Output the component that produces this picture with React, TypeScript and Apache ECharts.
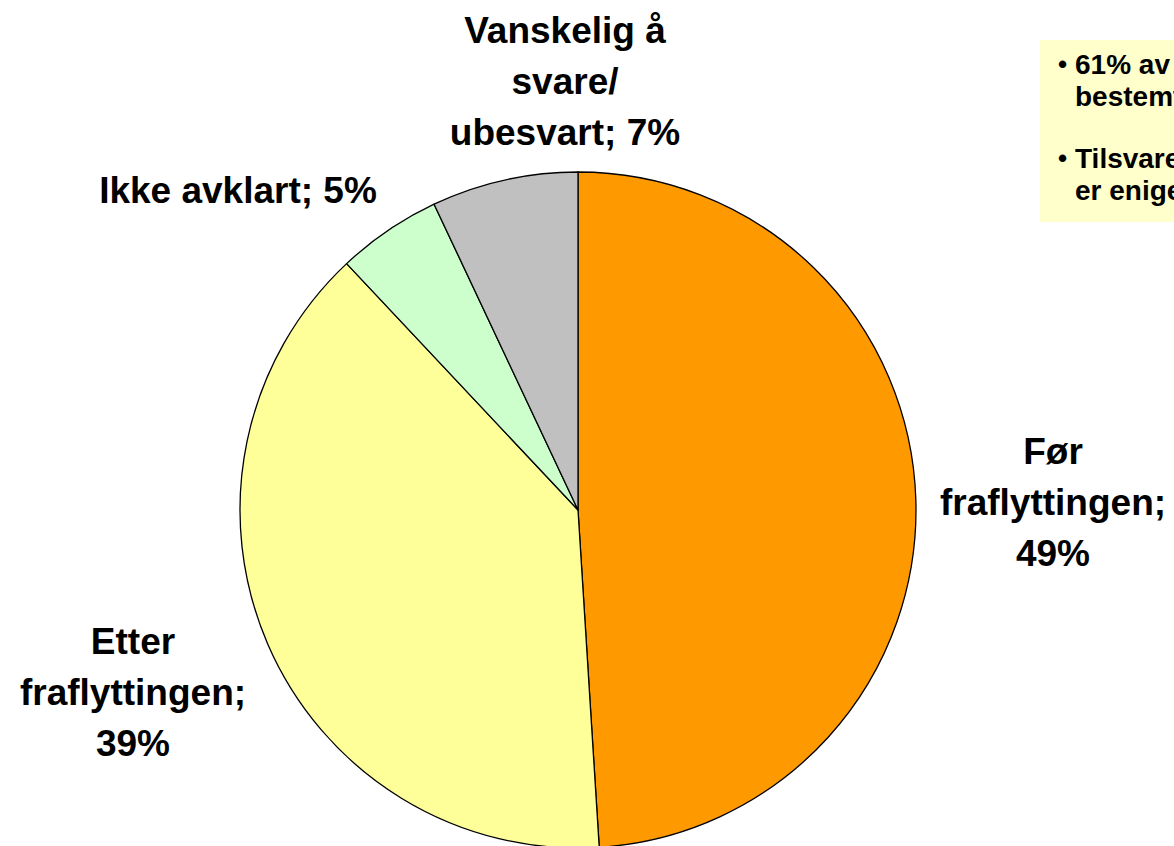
import React, { useEffect, useRef } from "react";
import * as echarts from "echarts";

const categories = ["Før fraflyttingen", "Etter fraflyttingen", "Ikke avklart", "Vanskelig å svare/ubesvart"];
const values = [49, 39, 5, 7];
const colors = ["#FF9900", "#FFFF99", "#CCFFCC", "#C0C0C0"];
const labelLines = [
  ["Før", "fraflyttingen;"],
  ["Etter", "fraflyttingen;"],
  ["Ikke avklart;"],
  ["Vanskelig å", "svare/", "ubesvart;"],
];
const boxLines = [
  { bullet: true, text: "61% av de ansatte var" },
  { bullet: false, text: "bestemt på å flytte" },
  { bullet: true, text: "Tilsvarende andel" },
  { bullet: false, text: "er enige i påstanden" },
];

export default function App() {
  const ref = useRef<HTMLDivElement>(null);
  useEffect(() => {
    if (!ref.current) return;
    const chart = echarts.init(ref.current, null, { renderer: "svg" });
    const labelPos = [
      { x: 1053, y: 502 },
      { x: 133, y: 692 },
      { x: 238, y: 190 },
      { x: 565, y: 81 },
    ];
    const boxY = [64, 96, 158, 190];
    const font = "'Liberation Sans', Arial, sans-serif";
    const boxTexts: any[] = [];
    boxLines.forEach((l, i) => {
      if (l.bullet) {
        boxTexts.push({
          type: "text",
          x: 1058,
          y: boxY[i],
          style: { text: "•", font: `bold 26px ${font}`, fill: "#000", verticalAlign: "middle" },
          z: 2,
        });
      }
      boxTexts.push({
        type: "text",
        x: 1075,
        y: boxY[i],
        style: { text: l.text, font: `bold 28px ${font}`, fill: "#000", verticalAlign: "middle" },
        z: 2,
      });
    });
    chart.setOption({
      animation: false,
      backgroundColor: "#ffffff",
      graphic: [
        {
          type: "rect",
          shape: { x: 1040, y: 40, width: 200, height: 182 },
          style: { fill: "#FFFFCC" },
          z: 1,
        },
        ...boxTexts,
      ],
      series: [
        {
          type: "pie",
          center: [578, 510],
          radius: 338,
          startAngle: 90,
          clockwise: true,
          avoidLabelOverlap: false,
          itemStyle: { borderColor: "#000", borderWidth: 1.3 },
          label: {
            show: true,
            position: "outside",
            fontFamily: font,
            fontWeight: "bold",
            fontSize: 37,
            lineHeight: 51,
            color: "#000",
            align: "center",
            formatter: (p: any) => {
              const lines = labelLines[p.dataIndex].slice();
              const last = lines.length - 1;
              if (p.dataIndex === 2 || p.dataIndex === 3) {
                lines[last] = lines[last] + " " + p.value + "%";
              } else {
                lines.push(p.value + "%");
              }
              return lines.join("\n");
            },
          },
          labelLine: { show: false },
          labelLayout: (params: any) => ({
            x: labelPos[params.dataIndex].x,
            y: labelPos[params.dataIndex].y,
            align: "center",
            verticalAlign: "middle",
          }),
          data: categories.map((name, i) => ({
            name,
            value: values[i],
            itemStyle: { color: colors[i] },
          })),
        },
      ],
    });
    return () => chart.dispose();
  }, []);
  return (
    <div
      ref={ref}
      style={{ position: "fixed", left: 0, top: 0, width: 1174, height: 846 }}
    />
  );
}
